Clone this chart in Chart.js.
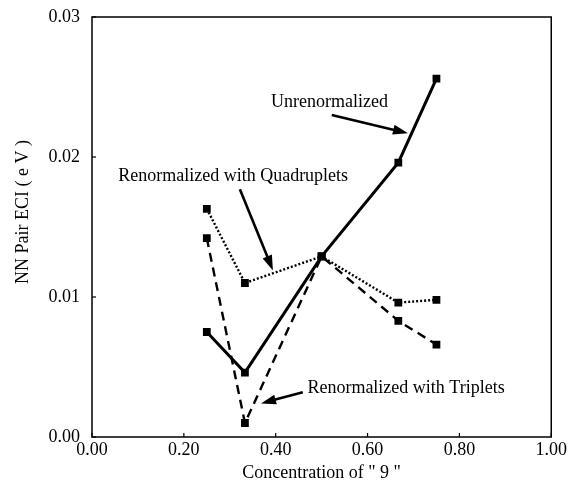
<!DOCTYPE html>
<html>
<head>
<meta charset="utf-8">
<script src="https://cdn.jsdelivr.net/npm/chart.js@4.4.1/dist/chart.umd.min.js"></script>
<style>
  html, body { margin: 0; padding: 0; background: #fff; }
  #wrap { width: 569px; height: 484px; }
</style>
</head>
<body>
<div id="wrap"><canvas id="myChart"></canvas></div>
<script>
// concentration values and pair ECI for each series (eV)
const concentration = [0.25, 0.333, 0.5, 0.667, 0.75];
const unrenormalized = [0.0075, 0.0046, 0.0129, 0.0196, 0.0256];
const withQuadruplets = [0.0163, 0.0110, 0.0129, 0.0096, 0.0098];
const withTriplets = [0.0142, 0.0010, 0.0129, 0.0083, 0.0066];
const xTicks = [0, 0.2, 0.4, 0.6, 0.8, 1.0];
const yTicks = [0, 0.01, 0.02, 0.03];

const serif = '"Liberation Serif", "DejaVu Serif", serif';

function pts(ys) {
  return concentration.map((x, i) => ({x: x, y: ys[i]}));
}

function series(ys, dash, width) {
  return {
    data: pts(ys),
    borderColor: '#000',
    backgroundColor: '#000',
    borderWidth: width,
    borderDash: dash,
    pointStyle: 'rect',
    pointRadius: 5.5,
    pointBorderWidth: 0,
    tension: 0
  };
}

const data = {
  datasets: [
    series(unrenormalized, [], 3),
    series(withQuadruplets, [2, 2], 2.4),
    series(withTriplets, [9, 6], 2.4)
  ]
};

// labels with arrows, positions given in data units
const notes = [
  {text: 'Unrenormalized', x: 0.39, y: 0.0239, from: [0.522, 0.0230], to: [0.688, 0.0217]},
  {text: 'Renormalized with Quadruplets', x: 0.057, y: 0.0186, from: [0.322, 0.0177], to: [0.394, 0.0119]},
  {text: 'Renormalized with Triplets', x: 0.469, y: 0.0035, from: [0.459, 0.0032], to: [0.368, 0.0024]}
];

function arrow(ctx, x1, y1, x2, y2) {
  const a = Math.atan2(y2 - y1, x2 - x1);
  const len = 15, half = 5;
  ctx.beginPath();
  ctx.moveTo(x1, y1);
  ctx.lineTo(x2 - Math.cos(a) * len * 0.8, y2 - Math.sin(a) * len * 0.8);
  ctx.stroke();
  ctx.beginPath();
  ctx.moveTo(x2, y2);
  ctx.lineTo(x2 - Math.cos(a) * len + Math.sin(a) * half, y2 - Math.sin(a) * len - Math.cos(a) * half);
  ctx.lineTo(x2 - Math.cos(a) * len - Math.sin(a) * half, y2 - Math.sin(a) * len + Math.cos(a) * half);
  ctx.closePath();
  ctx.fill();
}

const frame = {
  id: 'frame',
  afterDatasetsDraw(chart) {
    const {ctx, chartArea: {top, bottom, left, right}, scales: {x, y}} = chart;
    ctx.save();
    ctx.strokeStyle = '#000';
    ctx.fillStyle = '#000';
    ctx.lineWidth = 1.5;
    ctx.strokeRect(left, top, right - left, bottom - top);

    // inward tick marks
    ctx.lineWidth = 1.2;
    xTicks.forEach(v => {
      const px = x.getPixelForValue(v);
      ctx.beginPath(); ctx.moveTo(px, bottom); ctx.lineTo(px, bottom - 4); ctx.stroke();
    });
    yTicks.forEach(v => {
      const py = y.getPixelForValue(v);
      ctx.beginPath(); ctx.moveTo(left, py); ctx.lineTo(left + 4, py); ctx.stroke();
    });

    // annotations
    ctx.font = `18px ${serif}`;
    ctx.textAlign = 'left';
    ctx.textBaseline = 'middle';
    ctx.lineWidth = 2.6;
    notes.forEach(n => {
      ctx.fillText(n.text, x.getPixelForValue(n.x), y.getPixelForValue(n.y));
      arrow(ctx, x.getPixelForValue(n.from[0]), y.getPixelForValue(n.from[1]),
                 x.getPixelForValue(n.to[0]), y.getPixelForValue(n.to[1]));
    });

    // axis titles
    ctx.textAlign = 'center';
    ctx.fillText('Concentration of " 9 "', (left + right) / 2, 473);
    ctx.translate(23, 212);
    ctx.rotate(-Math.PI / 2);
    ctx.fillText('NN Pair ECI ( e V )', 0, 0);
    ctx.restore();
  }
};

const options = {
  responsive: true,
  maintainAspectRatio: false,
  animation: false,
  layout: { padding: { top: 17, right: 17, left: 0, bottom: 0 } },
  plugins: {
    legend: { display: false },
    tooltip: { enabled: false }
  },
  scales: {
    x: {
      type: 'linear',
      min: 0,
      max: 1,
      afterFit(scale) { scale.height = 47; },
      afterBuildTicks(scale) { scale.ticks = xTicks.map(v => ({value: v})); },
      grid: { display: false, drawTicks: false },
      border: { display: false },
      ticks: {
        padding: 2,
        color: '#000',
        font: { family: serif, size: 18 },
        callback: v => v.toFixed(2)
      }
    },
    y: {
      min: 0,
      max: 0.03,
      afterFit(scale) {
        scale.width = 92;
        scale.paddingTop = 0;
        scale.paddingBottom = 0;
      },
      afterBuildTicks(scale) { scale.ticks = yTicks.map(v => ({value: v})); },
      grid: { display: false, drawTicks: false },
      border: { display: false },
      ticks: {
        padding: 12,
        color: '#000',
        font: { family: serif, size: 18 },
        callback: v => v.toFixed(2)
      }
    }
  }
};

const config = {
  type: 'line',
  data,
  options,
  plugins: [frame]
};

const myChart = new Chart(document.getElementById('myChart'), config);
</script>
</body>
</html>
